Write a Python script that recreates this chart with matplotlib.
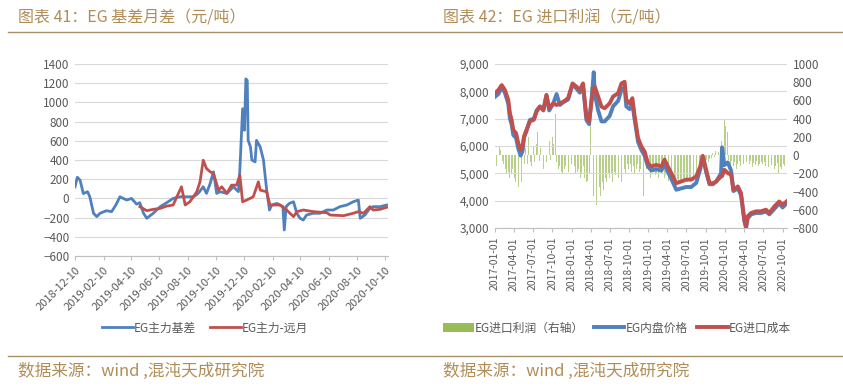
import matplotlib
matplotlib.use('Agg')
import matplotlib.pyplot as plt
import matplotlib.dates as mdates
import matplotlib.ticker as mticker
import pandas as pd

plt.rcParams['font.family'] = ['Noto Sans CJK SC', 'DejaVu Sans']

# ---------------- chart 41: EG basis / spread ----------------
basis_dates = ['2018-12-10', '2018-12-15', '2018-12-21', '2018-12-28', '2019-01-06', '2019-01-11', '2019-01-19',
               '2019-01-26', '2019-02-02', '2019-02-16', '2019-02-27', '2019-03-06', '2019-03-10', '2019-03-17',
               '2019-03-24', '2019-04-01', '2019-04-11', '2019-04-22', '2019-04-29', '2019-05-07', '2019-05-14',
               '2019-05-28', '2019-06-12', '2019-06-26', '2019-07-10', '2019-07-25', '2019-08-08', '2019-08-23',
               '2019-09-02', '2019-09-13', '2019-09-20', '2019-09-28', '2019-10-05', '2019-10-12', '2019-10-19',
               '2019-11-03', '2019-11-17', '2019-11-28', '2019-12-01', '2019-12-07', '2019-12-11', '2019-12-14',
               '2019-12-17', '2019-12-19', '2019-12-24', '2019-12-27', '2020-01-03', '2020-01-06', '2020-01-14',
               '2020-01-21', '2020-01-28', '2020-02-03', '2020-02-08', '2020-02-19', '2020-03-03', '2020-03-06',
               '2020-03-10', '2020-03-17', '2020-03-26', '2020-04-02', '2020-04-09', '2020-04-16', '2020-04-23',
               '2020-05-08', '2020-05-22', '2020-06-06', '2020-06-20', '2020-07-04', '2020-07-19', '2020-08-02',
               '2020-08-13', '2020-08-17', '2020-08-27', '2020-09-07', '2020-09-14', '2020-09-29', '2020-10-13']
basis = [120, 220, 190, 50, 70, 17, -155, -190, -155, -128,
         -138, -86, -52, 17, 0, -17, 0, -60, -45, -155,
         -207, -155, -86, -45, 0, 17, 17, 17, 52, 121,
         52, 156, 277, 52, 70, 52, 121, 70, 294, 934,
         710, 1245, 1230, 605, 536, 400, 380, 605, 536, 400,
         86, -121, -69, -52, -86, -329, -86, -52, -35, -155,
         -207, -225, -173, -155, -155, -121, -121, -86, -69, -35,
         -17, -207, -173, -104, -86, -86, -69]

spread_dates = ['2019-04-29', '2019-05-14', '2019-05-28', '2019-06-12', '2019-06-26', '2019-07-10', '2019-07-18',
                '2019-07-28', '2019-08-05', '2019-08-15', '2019-08-30', '2019-09-06', '2019-09-13', '2019-09-20',
                '2019-09-28', '2019-10-05', '2019-10-16', '2019-10-23', '2019-11-03', '2019-11-13', '2019-11-24',
                '2019-12-01', '2019-12-07', '2019-12-16', '2019-12-30', '2020-01-10', '2020-01-14', '2020-01-28',
                '2020-02-04', '2020-02-26', '2020-03-11', '2020-03-26', '2020-04-02', '2020-04-16', '2020-05-08',
                '2020-06-06', '2020-06-13', '2020-07-12', '2020-08-02', '2020-08-13', '2020-08-24', '2020-09-07',
                '2020-09-14', '2020-09-29', '2020-10-13']
spread = [-86, -128, -114, -104, -80, -69, 17, 121, -69, -35,
          69, 173, 398, 311, 277, 260, 86, 121, 52, 138,
          138, 242, -35, -17, 17, 173, 86, 69, -69, -69,
          -121, -190, -138, -121, -138, -149, -173, -180, -155, -138,
          -155, -86, -121, -114, -93]

left_ticks = ['2018-12-10', '2019-02-10', '2019-04-10', '2019-06-10', '2019-08-10', '2019-10-10',
              '2019-12-10', '2020-02-10', '2020-04-10', '2020-06-10', '2020-08-10', '2020-10-10']

# ---------------- chart 42: EG import profit ----------------
price_dates = ['2017-01-01', '2017-01-17', '2017-02-02', '2017-02-17', '2017-03-05', '2017-03-13', '2017-03-21',
               '2017-03-29', '2017-04-11', '2017-04-22', '2017-05-03', '2017-05-12', '2017-05-19', '2017-05-31',
               '2017-06-16', '2017-07-05', '2017-07-18', '2017-08-03', '2017-08-19', '2017-09-03', '2017-09-16',
               '2017-10-05', '2017-10-21', '2017-11-06', '2017-11-22', '2017-12-15',
               '2018-01-05', '2018-01-24', '2018-02-09', '2018-02-24', '2018-03-12', '2018-03-25', '2018-04-10',
               '2018-04-16', '2018-04-21', '2018-05-07', '2018-05-23', '2018-06-07', '2018-07-01', '2018-07-17',
               '2018-08-10', '2018-08-26', '2018-09-10', '2018-09-18', '2018-10-04', '2018-10-17', '2018-10-28',
               '2018-11-13', '2018-11-29', '2018-12-14', '2018-12-30',
               '2019-01-15', '2019-02-08', '2019-03-04', '2019-03-19', '2019-04-04', '2019-04-20', '2019-05-14',
               '2019-06-06', '2019-06-30', '2019-07-24', '2019-08-17', '2019-09-05', '2019-09-17', '2019-10-03',
               '2019-10-19', '2019-11-04', '2019-11-20', '2019-12-13', '2019-12-18', '2019-12-29',
               '2020-01-14', '2020-01-30', '2020-02-10', '2020-03-02', '2020-03-17', '2020-04-02', '2020-04-10',
               '2020-04-18', '2020-05-04', '2020-05-28', '2020-06-20', '2020-07-14', '2020-07-30', '2020-08-23',
               '2020-09-15', '2020-10-01', '2020-10-20']
import_cost = [7930, 8050, 8230, 8050, 7690, 7200, 6960, 6590, 6470, 6100, 5860, 5980, 6350, 6590, 6900, 6960,
               7260, 7440, 7320, 7870, 7380, 7560, 7500, 7560, 7620, 7750,
               8290, 8170, 8050, 8290, 7080, 6900, 7900, 8100, 8170, 7810, 7440, 7380, 7560, 7810, 7930, 8290,
               8350, 7690, 7560, 7750, 7080, 6290, 5980, 5800, 5370,
               5250, 5310, 5250, 5500, 5250, 5010, 4640, 4700, 4770, 4770, 4890, 5250, 5640, 5130, 4640, 4640,
               4700, 4890, 4900, 5130,
               5010, 4950, 4400, 4520, 4280, 3300, 3050, 3430, 3550, 3610, 3610, 3670, 3550, 3790, 3970, 3850, 3970]
domestic = [7800, 7900, 8150, 7950, 7550, 7000, 6800, 6400, 6300, 5900, 5650, 5800, 6300, 6550, 6950, 7000,
            7300, 7450, 7300, 7850, 7300, 7550, 7900, 7500, 7600, 7700,
            8250, 8100, 7950, 8200, 6950, 6800, 8100, 8700, 7900, 7300, 6900, 6900, 7100, 7450, 7650, 8050,
            8150, 7450, 7350, 7550, 6950, 6150, 5850, 5650, 5250,
            5100, 5150, 5100, 5350, 5050, 4800, 4400, 4450, 4500, 4500, 4650, 5150, 5600, 5050, 4600, 4600,
            4700, 5000, 5950, 5300,
            5400, 5100, 4350, 4450, 4200, 3250, 3000, 3350, 3500, 3550, 3550, 3600, 3500, 3700, 3900, 3750, 3900]

# weekly import profit, one row per quarter (right axis)
profit_start = '2017-01-01'
profit = [-150, -120, -80, 100, 60, -60, -100, -150, -200, -180, -250, -200, -150,
          -250, -300, -200, -350, -420, -300, -150, -100, 80, -100, 200, -80, -120,
          100, -80, 120, 250, -60, 80, -100, -150, -120, -80, 100, 150, -50,
          200, 120, 450, -80, -150, -120, -180, -200, -150, -120, -100, -180, -60,
          -100, -150, -120, -200, -180, -150, -250, -200, -120, -250, -300, -280, -200,
          750, -200, -450, -600, -550, -400, -350, -450, -300, -380, -250, -300, -200,
          -250, -200, -300, -180, -220, -150, -250, -200, -300, -180, -150, -200, -100,
          -150, -100, -180, -120, -200, -150, -100, -180, -150, -120, -450, -200, -150,
          -200, -150, -250, -180, -150, -220, -200, -250, -150, -200, -180, -250, -220,
          -250, -280, -300, -250, -270, -290, -300, -260, -280, -300, -270, -290, -260,
          -280, -300, -270, -290, -260, -280, -250, -270, -200, -150, -100, -120, -80,
          -60, -50, -80, -40, -30, 20, -20, 50, 80, 30, 860, 150, 300,
          400, 320, 250, -50, -100, -60, -120, -80, -150, -100, -60, -120, -80,
          -100, -150, -80, -120, -100, -60, -130, -90, -110, -70, -120, -100, -80,
          -100, -80, -120, -90, -130, -70, -110, -100, -150, -120, -90, -200, -130,
          -150, -100, -120]

right_ticks = ['2017-01-01', '2017-04-01', '2017-07-01', '2017-10-01', '2018-01-01', '2018-04-01',
               '2018-07-01', '2018-10-01', '2019-01-01', '2019-04-01', '2019-07-01', '2019-10-01',
               '2020-01-01', '2020-04-01', '2020-07-01', '2020-10-01']

blue = '#4f81bd'
red = '#c0504d'
green = '#9bbb59'
gold = '#b08d57'
grey_txt = '#595959'
grid_c = '#d9d9d9'

W, H = 843, 389
fig = plt.figure(figsize=(W / 100, H / 100), dpi=100)


def box(x0, y0, x1, y1):
    return [x0 / W, 1 - y1 / H, (x1 - x0) / W, (y1 - y0) / H]


def style(ax):
    for s in ['top', 'left', 'right']:
        ax.spines[s].set_visible(False)
    ax.spines['bottom'].set_color('#bfbfbf')
    ax.grid(axis='y', color=grid_c, lw=0.8)
    ax.set_axisbelow(True)
    ax.tick_params(axis='y', length=0, labelsize=8.5, labelcolor=grey_txt, pad=4)
    ax.tick_params(axis='x', length=3, color='#bfbfbf', labelsize=8, labelcolor=grey_txt)


# left chart
ax1 = fig.add_axes(box(75, 64, 388, 256))
ax1.plot(pd.to_datetime(basis_dates), basis, color=blue, lw=2.0, label='EG主力基差', zorder=3)
ax1.plot(pd.to_datetime(spread_dates), spread, color=red, lw=2.0, label='EG主力-远月', zorder=4)
ax1.set_ylim(-600, 1400)
ax1.set_yticks(range(-600, 1401, 200))
ax1.set_xlim(pd.Timestamp('2018-12-10'), pd.Timestamp('2020-10-16'))
ax1.set_xticks(pd.to_datetime(left_ticks))
ax1.xaxis.set_major_formatter(mdates.DateFormatter('%Y-%m-%d'))
style(ax1)
plt.setp(ax1.get_xticklabels(), rotation=45, ha='right', rotation_mode='anchor')

# right chart
ax2 = fig.add_axes(box(495, 64, 787, 228))
ax3 = ax2.twinx()
pdates = pd.date_range(profit_start, periods=len(profit), freq='7D')
ax3.bar(pdates, profit, width=4, color=green, alpha=0.7, lw=0, label='EG进口利润（右轴）')
ax3.set_ylim(-800, 1000)
ax3.set_yticks(range(-800, 1001, 200))
ax2.plot(pd.to_datetime(price_dates), domestic, color=blue, lw=2.8, label='EG内盘价格', zorder=3)
ax2.plot(pd.to_datetime(price_dates), import_cost, color=red, lw=2.8, label='EG进口成本', zorder=4)
ax2.set_ylim(3000, 9000)
ax2.set_yticks(range(3000, 9001, 1000))
ax2.yaxis.set_major_formatter(mticker.FuncFormatter(lambda v, p: f'{int(v):,}'))
ax2.set_xlim(pd.Timestamp('2017-01-01'), pd.Timestamp('2020-10-22'))
ax2.set_xticks(pd.to_datetime(right_ticks))
ax2.xaxis.set_major_formatter(mdates.DateFormatter('%Y-%m-%d'))
style(ax2)
ax2.tick_params(axis='x', labelsize=7.5)
for s in ['top', 'left', 'right', 'bottom']:
    ax3.spines[s].set_visible(False)
ax3.tick_params(axis='y', length=0, labelsize=8.5, labelcolor=grey_txt, pad=4)
ax2.set_zorder(ax3.get_zorder() + 1)
ax2.patch.set_visible(False)
plt.setp(ax2.get_xticklabels(), rotation=90)

# legends
h1, l1 = ax1.get_legend_handles_labels()
fig.legend(h1, l1, loc='center', bbox_to_anchor=(205 / W, 1 - 328 / H), ncol=2, frameon=False,
           fontsize=8.5, handlelength=2.6, handletextpad=0.1, columnspacing=1.2, labelcolor=grey_txt)
hb, lb = ax3.get_legend_handles_labels()
hl, ll = ax2.get_legend_handles_labels()
leg = fig.legend(hb + hl, lb + ll, loc='center', bbox_to_anchor=(617 / W, 1 - 328 / H), ncol=3, frameon=False,
                 fontsize=8.5, handlelength=2.6, handletextpad=0.1, columnspacing=0.8, labelcolor=grey_txt)
leg.legend_handles[0].set_alpha(1)

# titles, rules and source notes
fig.text(18 / W, 1 - 18 / H, '图表 41：EG 基差月差（元/吨）', color=gold, fontsize=11.5, va='center')
fig.text(443 / W, 1 - 18 / H, '图表 42：EG 进口利润（元/吨）', color=gold, fontsize=11.5, va='center')
fig.add_artist(plt.Line2D([8 / W, 1], [1 - 31.5 / H] * 2, color='#a8916a', lw=1.0))
fig.add_artist(plt.Line2D([8 / W, 1], [1 - 356 / H] * 2, color='#a8916a', lw=1.0))
fig.text(18 / W, 1 - 371 / H, '数据来源：wind ,混沌天成研究院', color=gold, fontsize=12, va='center')
fig.text(443 / W, 1 - 371 / H, '数据来源：wind ,混沌天成研究院', color=gold, fontsize=12, va='center')

fig.savefig('out.png', dpi=100)
